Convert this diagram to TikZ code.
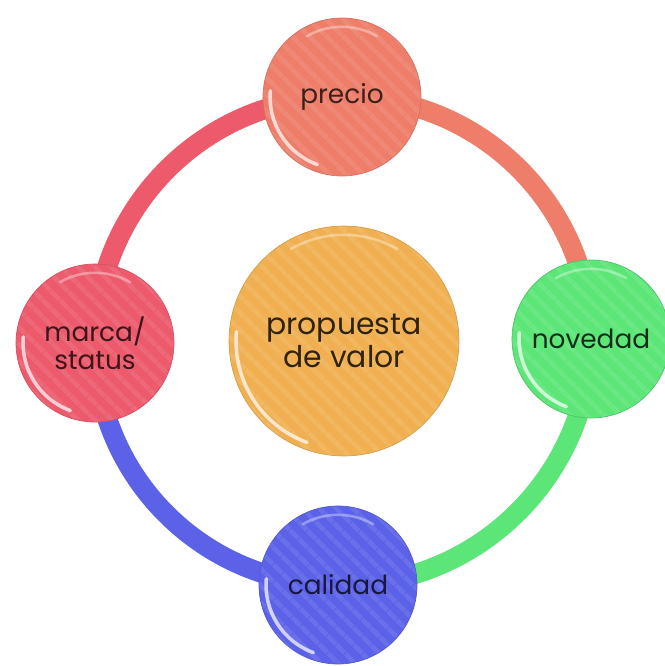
\documentclass[tikz,border=0pt]{standalone}
\usepackage{fontspec}
\setmainfont{Poppins}
\usetikzlibrary{backgrounds,calc,patterns.meta}
\definecolor{preciofill}{RGB}{238,126,106}
\definecolor{marcafill}{RGB}{236,90,108}
\definecolor{novedadfill}{RGB}{92,230,120}
\definecolor{calidadfill}{RGB}{92,98,232}
\definecolor{valorfill}{RGB}{240,176,82}

\begin{document}
\begin{tikzpicture}[
  x=0.02cm, y=-0.02cm,
  ball/.style={
    circle, inner sep=0pt, align=center, font=\fontsize{15}{16}\selectfont,
    line width=0.4pt,
    path picture={
      \fill[pattern={Lines[angle=-45,distance=0.26cm,line width=0.1cm]},
        pattern color=white, opacity=0.09]
        (path picture bounding box.south west) rectangle (path picture bounding box.north east);
      \draw[white, opacity=0.7, line width=2pt, line cap=round]
        let \p1=(path picture bounding box.center),
            \p2=(path picture bounding box.east),
            \n1={\x2-\x1-4pt} in
        ($(\p1)+(175:\n1)$) arc[start angle=175, end angle=250, radius=\n1];
      \draw[white, opacity=0.35, line width=1.5pt, line cap=round]
        let \p1=(path picture bounding box.center),
            \p2=(path picture bounding box.east),
            \n1={\x2-\x1-5pt} in
        ($(\p1)+(60:\n1)$) arc[start angle=60, end angle=120, radius=\n1];
    }
  },
  satellite/.style={ball, minimum size=3.16cm},
  hub/.style={ball, minimum size=4.6cm, font=\fontsize{17}{18.5}\selectfont},
  ringarc/.style={line width=0.4cm}
]
\useasboundingbox (0,0) rectangle (665,666);

% =====================================================================
% Circles
% =====================================================================
\node[satellite, fill=preciofill, draw=preciofill!90!black, text=preciofill!25!black]
  (precio) at (342,97) {precio};
\node[satellite, fill=marcafill, draw=marcafill!90!black, text=marcafill!25!black]
  (marca) at (95,343) {marca/\\status};
\node[satellite, fill=novedadfill, draw=novedadfill!85!black, text=novedadfill!20!black]
  (novedad) at (591,339) {novedad};
\node[satellite, fill=calidadfill, draw=calidadfill!90!black, text=calidadfill!25!black]
  (calidad) at (338,585) {calidad};

\node[hub, fill=valorfill, draw=valorfill!90!black, text=valorfill!20!black]
  (valor) at (344,341) {propuesta\\de valor};

% =====================================================================
% Ring
% =====================================================================
\begin{scope}[on background layer]
  \draw[ringarc, marcafill] (marca.center) to[bend left=45] (precio.center);
  \draw[ringarc, preciofill] (precio.center) to[bend left=45] (novedad.center);
  \draw[ringarc, novedadfill] (novedad.center) to[bend left=45] (calidad.center);
  \draw[ringarc, calidadfill] (calidad.center) to[bend left=45] (marca.center);
\end{scope}

\end{tikzpicture}
\end{document}
